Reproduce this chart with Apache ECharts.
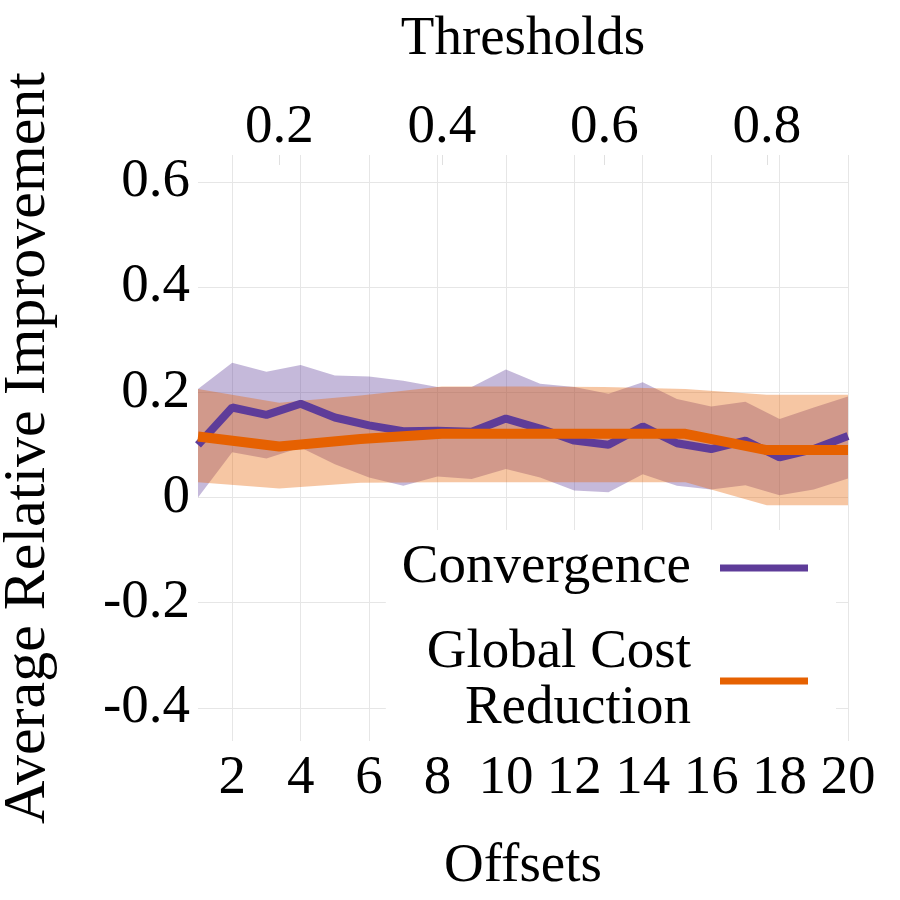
<!DOCTYPE html>
<html>
<head>
<meta charset="utf-8">
<script src="https://cdn.jsdelivr.net/npm/echarts@6/dist/echarts.min.js"></script>
<style>
html, body { margin: 0; padding: 0; background: #fff; }
#main { width: 900px; height: 900px; }
</style>
</head>
<body>
<div id="main"></div>
<script>
// bottom axis: offsets
var offsets = [1, 2, 3, 4, 5, 6, 7, 8, 9, 10, 11, 12, 13, 14, 15, 16, 17, 18, 19, 20];
var convMean = [0.100, 0.171, 0.157, 0.178, 0.152, 0.137, 0.126, 0.127, 0.125, 0.150,
                0.131, 0.108, 0.100, 0.135, 0.103, 0.092, 0.108, 0.076, 0.092, 0.117];
var convUpper = [0.206, 0.256, 0.239, 0.252, 0.232, 0.230, 0.222, 0.210, 0.210, 0.243,
                 0.216, 0.210, 0.197, 0.219, 0.187, 0.173, 0.182, 0.149, 0.171, 0.192];
var convLower = [0.000, 0.086, 0.074, 0.095, 0.063, 0.038, 0.022, 0.040, 0.035, 0.054,
                 0.038, 0.013, 0.010, 0.044, 0.022, 0.015, 0.023, 0.004, 0.015, 0.036];

// top axis: thresholds
var thresholds = [0.1, 0.2, 0.3, 0.4, 0.5, 0.6, 0.7, 0.8, 0.9];
var costMean = [0.116, 0.097, 0.111, 0.121, 0.121, 0.121, 0.121, 0.090, 0.090];
var costUpper = [0.206, 0.180, 0.194, 0.211, 0.211, 0.210, 0.206, 0.195, 0.195];
var costLower = [0.029, 0.017, 0.028, 0.029, 0.029, 0.029, 0.029, -0.015, -0.015];

// tick labels
var offsetTicks = [2, 4, 6, 8, 10, 12, 14, 16, 18, 20];
var thresholdTicks = [0.2, 0.4, 0.6, 0.8];
var yTicks = [-0.4, -0.2, 0, 0.2, 0.4, 0.6];

var FONT = '"Liberation Serif", "DejaVu Serif", serif';
var FS = 55;
var PURPLE = '#5e3c99';
var ORANGE = '#e66101';

function pairs(xs, ys) {
	return xs.map(function (x, i) { return [x, ys[i]]; });
}

// shaded band between lower and upper, drawn as one polygon through the axes
function bandSeries(xs, lo, up, axisIndex, color) {
	return {
		type: 'custom',
		xAxisIndex: axisIndex,
		silent: true,
		data: xs.map(function (x, i) { return [x, lo[i], up[i]]; }),
		encode: { x: 0, y: [1, 2] },
		renderItem: function (params, api) {
			if (params.dataIndex !== 0) return null;
			var pts = [];
			for (var i = 0; i < xs.length; i++) pts.push(api.coord([xs[i], up[i]]));
			for (var j = xs.length - 1; j >= 0; j--) pts.push(api.coord([xs[j], lo[j]]));
			return {
				type: 'polygon',
				shape: { points: pts },
				style: { fill: color, opacity: 0.36 }
			};
		}
	};
}

var myChart = echarts.init(document.getElementById('main'));

var option = {
	animation: false,
	backgroundColor: '#fff',
	grid: { left: 198, right: 52, top: 155, bottom: 159, outerBoundsMode: 'none' },
	xAxis: [
		{
			type: 'value',
			position: 'bottom',
			min: 1,
			max: 20,
			name: 'Offsets',
			nameLocation: 'middle',
			nameGap: 98,
			nameTextStyle: { fontFamily: FONT, fontSize: FS, color: '#000' },
			axisLine: { show: false },
			axisTick: { show: false, customValues: offsetTicks },
			axisLabel: { customValues: offsetTicks, fontFamily: FONT, fontSize: FS, color: '#000', margin: 10 },
			splitLine: { show: true, lineStyle: { color: '#e6e6e6', width: 1 } }
		},
		{
			type: 'value',
			position: 'top',
			min: 0.1,
			max: 0.9,
			name: 'Thresholds',
			nameLocation: 'middle',
			nameGap: 88,
			nameTextStyle: { fontFamily: FONT, fontSize: FS, color: '#000' },
			axisLine: { show: false },
			axisTick: { show: true, inside: true, length: 10, customValues: thresholdTicks, lineStyle: { color: '#e0e0e0' } },
			axisLabel: { customValues: thresholdTicks, fontFamily: FONT, fontSize: FS, color: '#000', margin: 0,
				formatter: function (v) { return v.toFixed(1); } },
			splitLine: { show: false }
		}
	],
	yAxis: {
		type: 'value',
		min: -0.463,
		max: 0.651,
		name: 'Average Relative Improvement',
		nameLocation: 'middle',
		nameGap: 140,
		nameTextStyle: { fontFamily: FONT, fontSize: 60, color: '#000' },
		axisLine: { show: false },
		axisTick: { show: false, customValues: yTicks },
		axisLabel: { customValues: yTicks, fontFamily: FONT, fontSize: FS, color: '#000', margin: 8,
			formatter: function (v) { return Math.abs(v) < 1e-9 ? '0' : v.toFixed(1); } },
		splitLine: { show: true, lineStyle: { color: '#e6e6e6', width: 1 } }
	},
	legend: {
		data: ['Convergence', 'Global Cost Reduction'],
		orient: 'vertical',
		align: 'right',
		right: 64,
		top: 530,
		padding: [10, 28, 14, 16],
		backgroundColor: '#fff',
		icon: 'rect',
		itemWidth: 88,
		itemHeight: 7,
		itemGap: 29,
		textStyle: {
			fontFamily: FONT, fontSize: FS, color: '#000', lineHeight: 56,
			padding: [0, 24, 0, 0]
		},
		formatter: function (name) {
			return name === 'Global Cost Reduction' ? 'Global Cost\nReduction' : name;
		}
	},
	series: [
		bandSeries(offsets, convLower, convUpper, 0, PURPLE),
		bandSeries(thresholds, costLower, costUpper, 1, ORANGE),
		{
			name: 'Convergence', type: 'line', xAxisIndex: 0,
			data: pairs(offsets, convMean), symbol: 'none',
			itemStyle: { color: PURPLE },
			lineStyle: { color: PURPLE, width: 8 }
		},
		{
			name: 'Global Cost Reduction', type: 'line', xAxisIndex: 1,
			data: pairs(thresholds, costMean), symbol: 'none',
			itemStyle: { color: ORANGE },
			lineStyle: { color: ORANGE, width: 10 }
		}
	]
};

myChart.setOption(option);
</script>
</body>
</html>
